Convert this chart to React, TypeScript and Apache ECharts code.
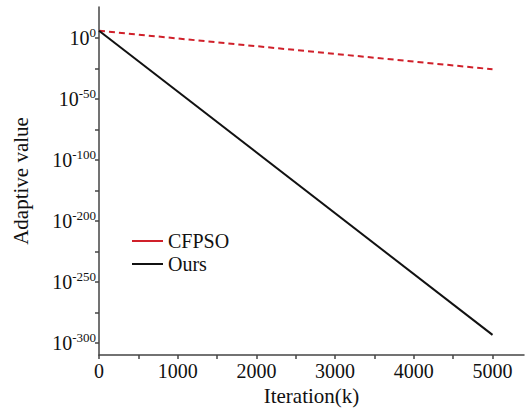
import React, { useEffect, useRef } from "react";
import * as echarts from "echarts";

// x values (iterations)
const iterations = [0, 5000];
// log10 of the adaptive value, as read against the printed tick labels
const cfpsoExp = [6, -25.6];
const oursExp = [6, -293.5];
// printed y tick labels (exponents of 10), evenly spaced on the axis
const yTickExps = [0, -50, -100, -200, -250, -300];
const yTickPos = [0, -1, -2, -3, -4, -5];
const xLabelValues = [0, 1000, 2000, 3000, 4000, 5000];
const xTickValues = [0, 500, 1000, 1500, 2000, 2500, 3000, 3500, 4000, 4500, 5000];

// map an exponent to its position on the (evenly spaced) printed axis
function expToPos(e: number): number {
  if (e >= yTickExps[0]) return yTickPos[0] + (e - yTickExps[0]) / 50;
  for (let i = 0; i < yTickExps.length - 1; i++) {
    const a = yTickExps[i], b = yTickExps[i + 1];
    if (e <= a && e >= b) return yTickPos[i] + ((e - a) / (b - a)) * (yTickPos[i + 1] - yTickPos[i]);
  }
  const n = yTickExps.length - 1;
  return yTickPos[n] + (e - yTickExps[n]) / 50;
}

const FONT = "Liberation Serif";

export default function App() {
  const ref = useRef<HTMLDivElement>(null);
  useEffect(() => {
    const chart = echarts.init(ref.current!, null, { renderer: "svg" });
    const yTicks: number[] = [];
    for (let i = 0; i < yTickPos.length; i++) {
      yTicks.push(yTickPos[i]);
      if (i < yTickPos.length - 1) yTicks.push((yTickPos[i] + yTickPos[i + 1]) / 2);
    }
    chart.setOption({
      animation: false,
      textStyle: { fontFamily: FONT },
      grid: { left: 99, right: 2, top: 7, bottom: 61 },
      legend: {
        orient: "vertical",
        left: 127,
        top: 226,
        itemWidth: 31,
        itemHeight: 2,
        itemGap: 3,
        textStyle: { fontFamily: FONT, fontSize: 20, color: "#111" },
        data: [
          { name: "CFPSO", icon: "rect" },
          { name: "Ours", icon: "rect" },
        ],
      },
      xAxis: {
        type: "value",
        min: 0,
        max: 5400,
        name: "Iteration(k)",
        nameLocation: "middle",
        nameGap: 29,
        nameTextStyle: { fontFamily: FONT, fontSize: 21, color: "#111" },
        splitLine: { show: false },
        axisLine: { onZero: false, lineStyle: { color: "#444", width: 1.5 } },
        axisTick: { customValues: xTickValues, length: 4, lineStyle: { color: "#444", width: 1.5 } },
        axisLabel: {
          customValues: xLabelValues,
          fontFamily: FONT,
          fontSize: 20,
          color: "#111",
          margin: 6,
          formatter: (v: number) => String(v),
        },
      },
      yAxis: {
        type: "value",
        min: -5.2,
        max: 0.51,
        name: "Adaptive value",
        nameLocation: "middle",
        nameGap: 68,
        nameMoveOverlap: false,
        nameTextStyle: { fontFamily: FONT, fontSize: 21, color: "#111" },
        splitLine: { show: false },
        axisLine: { show: true, onZero: false, lineStyle: { color: "#444", width: 1.5 } },
        axisTick: { customValues: yTicks, length: 4, lineStyle: { color: "#444", width: 1.5 } },
        axisLabel: {
          customValues: yTickPos,
          margin: 3,
          color: "#111",
          fontFamily: FONT,
          hideOverlap: false,
          formatter: (v: number) => {
            let idx = 0;
            yTickPos.forEach((p, i) => { if (Math.abs(p - v) < 1e-6) idx = i; });
            return "{b|10}{s|" + String(yTickExps[idx]) + "}";
          },
          rich: {
            b: { fontFamily: FONT, fontSize: 20, color: "#111", lineHeight: 24 },
            s: { fontFamily: FONT, fontSize: 13, color: "#111", lineHeight: 24, verticalAlign: "top", padding: [0, 0, 10, 0] },
          },
        },
      },
      series: [
        {
          name: "CFPSO",
          type: "line",
          showSymbol: false,
          symbol: "none",
          color: "#d0202a",
          lineStyle: { color: "#d0202a", width: 2, type: [6, 4] },
          data: iterations.map((x, i) => [x, expToPos(cfpsoExp[i])]),
        },
        {
          name: "Ours",
          type: "line",
          showSymbol: false,
          symbol: "none",
          color: "#111",
          lineStyle: { color: "#111", width: 2 },
          data: iterations.map((x, i) => [x, expToPos(oursExp[i])]),
        },
      ],
    });
    return () => chart.dispose();
  }, []);
  return <div ref={ref} style={{ position: "absolute", left: 0, top: 0, width: 526, height: 416 }} />;
}
